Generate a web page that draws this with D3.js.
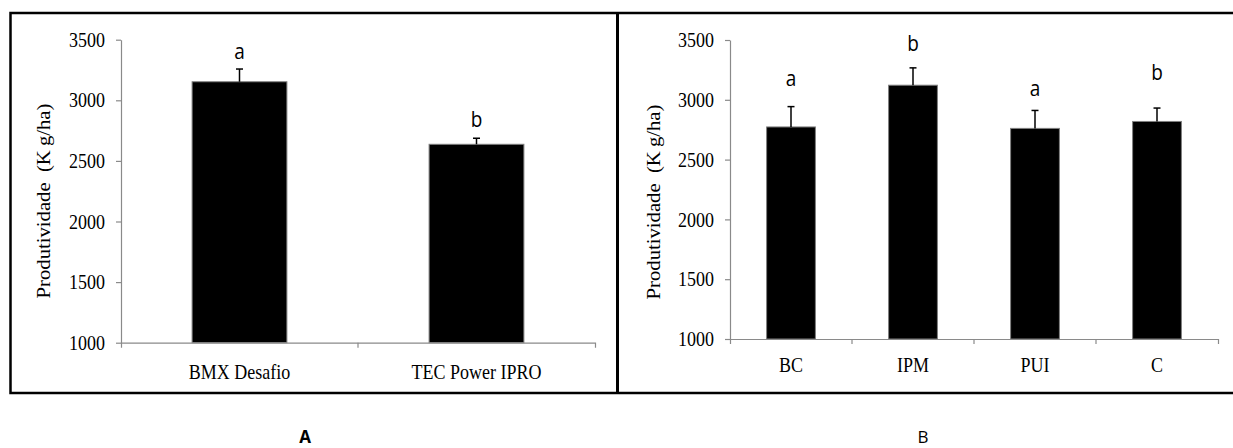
<!DOCTYPE html>
<html>
<head>
<meta charset="utf-8">
<script src="https://cdn.jsdelivr.net/npm/d3@7"></script>
<style>
  body { margin: 0; background: #fff; }
  svg text { fill: #000; }
  .stretch { transform-box: fill-box; transform-origin: center; transform: scaleY(1.15); }
  .stretch-base { transform-box: fill-box; transform-origin: center bottom; transform: scaleY(1.12); }
</style>
</head>
<body>
<svg id="chart" width="1233" height="448"></svg>
<script>
// dados
const yTicks = [1000, 1500, 2000, 2500, 3000, 3500];

const cultivars = ["BMX Desafio", "TEC Power IPRO"];
const cultivarMeans = [3153, 2637];
const cultivarErrors = [105, 50];
const cultivarLetters = ["a", "b"];
const cultivarLetterAt = [3332, 2777];

const treatments = ["BC", "IPM", "PUI", "C"];
const treatmentMeans = [2773, 3122, 2761, 2819];
const treatmentErrors = [170, 145, 150, 112];
const treatmentLetters = ["a", "b", "a", "b"];
const treatmentLetterAt = [3111, 3402, 3027, 3161];

const axisColor = "#8a8a8a";
const serif = "'Liberation Serif', 'Times New Roman', serif";
const sans = "'Open Sans', 'Liberation Sans', sans-serif";

const svg = d3.select("#chart");

// molduras dos painéis
svg.append("rect")
    .attr("x", 10.5).attr("y", 13)
    .attr("width", 1240).attr("height", 380)
    .attr("fill", "none").attr("stroke", "#000").attr("stroke-width", 2.5);
svg.append("line")
    .attr("x1", 617.5).attr("x2", 617.5).attr("y1", 12).attr("y2", 393)
    .attr("stroke", "#000").attr("stroke-width", 3);

function drawPanel(p) {
  const rows = p.cats.map((c, i) => ({
    cat: c, mean: p.means[i], err: p.errs[i], letter: p.letters[i], letterAt: p.letterAt[i]
  }));

  const x = d3.scaleBand().domain(p.cats).range([p.x0, p.x1])
      .paddingInner(0.6).paddingOuter(0.3);
  const y = d3.scaleLinear().domain([1000, 3500]).range([p.yBottom, p.yTop]);

  const g = svg.append("g");

  // barras
  g.selectAll(".bar").data(rows).enter().append("rect")
      .attr("class", "bar")
      .attr("x", d => x(d.cat))
      .attr("y", d => y(d.mean))
      .attr("width", x.bandwidth())
      .attr("height", d => y(1000) - y(d.mean))
      .attr("fill", "#000")
      .attr("stroke", "#7f7f7f").attr("stroke-width", 1);

  // barras de erro (só para cima)
  const cx = d => x(d.cat) + x.bandwidth() / 2;
  g.selectAll(".err").data(rows).enter().append("line")
      .attr("x1", cx).attr("x2", cx)
      .attr("y1", d => y(d.mean)).attr("y2", d => y(d.mean + d.err))
      .attr("stroke", "#000").attr("stroke-width", 1.5);
  g.selectAll(".cap").data(rows).enter().append("line")
      .attr("x1", d => cx(d) - 3.5).attr("x2", d => cx(d) + 3.5)
      .attr("y1", d => y(d.mean + d.err)).attr("y2", d => y(d.mean + d.err))
      .attr("stroke", "#000").attr("stroke-width", 1.5);

  // letras
  g.selectAll(".letter").data(rows).enter().append("text")
      .attr("class", "letter stretch-base")
      .attr("x", cx)
      .attr("y", d => y(d.letterAt))
      .attr("text-anchor", "middle")
      .style("font-family", sans).style("font-size", "19px")
      .text(d => d.letter);

  // eixo y
  const yAxis = g.append("g")
      .attr("transform", `translate(${p.x0},0)`)
      .call(d3.axisLeft(y).tickValues(yTicks).tickFormat(d3.format("d"))
            .tickSize(5).tickSizeOuter(0).tickPadding(11));
  // eixo x
  const xAxis = g.append("g")
      .attr("transform", `translate(0,${p.yBottom})`)
      .call(d3.axisBottom(x).tickSizeInner(0).tickSizeOuter(5).tickPadding(p.xPad));
  xAxis.selectAll(".mid").data(d3.range(1, p.cats.length)).enter().append("line")
      .attr("class", "mid")
      .attr("x1", i => p.x0 + x.step() * i).attr("x2", i => p.x0 + x.step() * i)
      .attr("y1", 0).attr("y2", 5)
      .attr("stroke", axisColor);

  [yAxis, xAxis].forEach(a => {
    a.selectAll("path, line").attr("stroke", axisColor).attr("stroke-width", 1.2);
    a.selectAll("text")
        .attr("class", "stretch")
        .style("font-family", serif).style("font-size", "18px")
        .attr("fill", "#000");
  });

  // título do eixo y
  g.append("text")
      .attr("transform", `translate(${p.titleX},${p.titleY}) rotate(-90) scale(1.15,1)`)
      .attr("text-anchor", "middle")
      .attr("dy", "0.35em")
      .style("font-family", serif).style("font-size", "18px")
      .style("white-space", "pre")
      .text("Produtividade  (K\u2009g/ha)");

  // legenda do painel
  svg.append("text")
      .attr("x", p.capX).attr("y", 443)
      .attr("text-anchor", "middle")
      .style("font-family", sans).style("font-size", "17px")
      .style("font-weight", p.capBold ? "bold" : "normal")
      .text(p.caption);
}

drawPanel({
  cats: cultivars, means: cultivarMeans, errs: cultivarErrors,
  letters: cultivarLetters, letterAt: cultivarLetterAt,
  x0: 121, x1: 595, yTop: 39.7, yBottom: 342.7, xPad: 23,
  titleX: 44, titleY: 201, capX: 305, capBold: true, caption: "A"
});

drawPanel({
  cats: treatments, means: treatmentMeans, errs: treatmentErrors,
  letters: treatmentLetters, letterAt: treatmentLetterAt,
  x0: 730, x1: 1218, yTop: 40, yBottom: 339, xPad: 19,
  titleX: 654, titleY: 202, capX: 923, capBold: false, caption: "B"
});
</script>
</body>
</html>
